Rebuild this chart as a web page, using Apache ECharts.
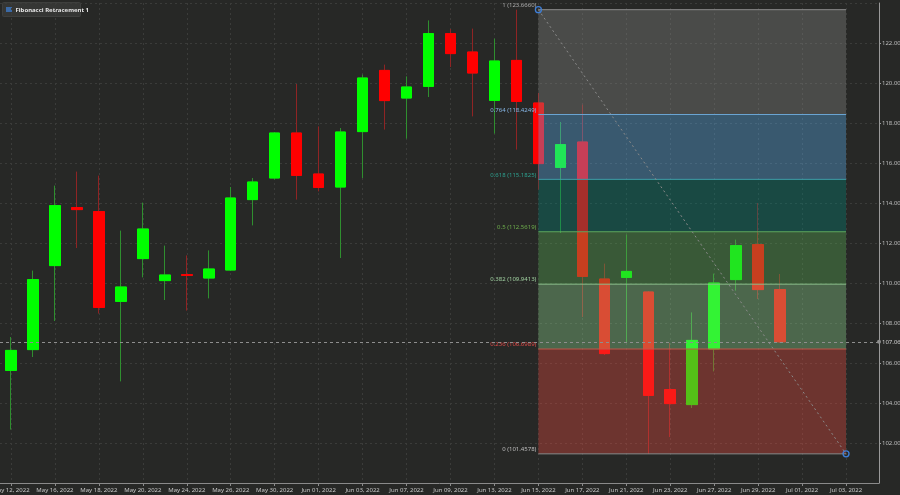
<!DOCTYPE html>
<html><head><meta charset="utf-8">
<script src="https://cdn.jsdelivr.net/npm/echarts@6/dist/echarts.min.js"></script>
<style>html,body{margin:0;padding:0;background:#272826;}#c{width:900px;height:495px;}</style>
</head><body><div id="c"></div>
<script>
const dates = ['May 12, 2022','May 13, 2022','May 16, 2022','May 17, 2022','May 18, 2022','May 19, 2022','May 20, 2022','May 23, 2022','May 24, 2022','May 25, 2022','May 26, 2022','May 27, 2022','May 30, 2022','May 31, 2022','Jun 01, 2022','Jun 02, 2022','Jun 03, 2022','Jun 06, 2022','Jun 07, 2022','Jun 08, 2022','Jun 09, 2022','Jun 10, 2022','Jun 13, 2022','Jun 14, 2022','Jun 15, 2022','Jun 16, 2022','Jun 17, 2022','Jun 20, 2022','Jun 21, 2022','Jun 22, 2022','Jun 23, 2022','Jun 24, 2022','Jun 27, 2022','Jun 28, 2022','Jun 29, 2022','Jun 30, 2022','Jul 01, 2022','Jul 02, 2022','Jul 03, 2022','Jul 04, 2022'];
const opens  = [105.63,106.67,110.87,113.77,113.57,109.08,111.22,110.12,110.42,110.25,110.65,114.17,115.25,117.50,115.45,114.80,117.57,120.63,119.25,119.83,122.47,121.55,119.13,121.13,119.00,115.78,117.05,110.20,110.28,109.55,104.67,103.92,106.70,110.17,111.92,109.67];
const closes = [106.63,110.17,113.87,113.67,108.78,109.80,112.70,110.40,110.38,110.70,114.25,115.05,117.50,115.38,114.78,117.55,120.25,119.12,119.80,122.47,121.47,120.50,121.10,119.08,115.97,116.92,110.33,106.47,110.58,104.38,103.97,107.13,110.00,111.87,109.67,107.06];
const lows   = [102.67,106.30,108.10,111.75,108.47,105.08,110.28,109.15,108.62,109.23,110.60,112.88,115.17,114.17,114.58,111.25,115.25,117.67,117.22,119.30,120.80,118.33,117.47,116.67,114.67,112.50,108.30,106.40,107.00,101.4578,102.30,103.75,105.58,109.62,109.20,107.00];
const highs  = [107.30,110.62,114.87,115.57,115.37,112.62,114.02,111.87,111.38,111.63,114.80,115.25,117.55,119.95,117.83,117.75,120.42,120.92,120.33,123.13,122.70,122.72,122.22,123.666,119.50,118.05,118.92,110.97,112.42,109.60,107.00,108.53,110.47,112.17,114.00,110.45];
const fibRatios = [1, 0.764, 0.618, 0.5, 0.382, 0.236, 0];
const fibPrices = [123.6660, 118.4249, 115.1825, 112.5619, 109.9413, 106.6989, 101.4578];
const fibStartIndex = 24, fibEndIndex = 38;
const yMin = 100, yMax = 124, yInterval = 2;

const bandColors = ['rgba(140,140,140,0.35)','rgba(91,181,250,0.35)','rgba(0,135,124,0.35)','rgba(91,181,89,0.35)','rgba(146,221,149,0.35)','rgba(240,75,67,0.35)'];
const lineColors = ['#8c8c8c','#6aa4d2','#3f9fa8','#5ea85e','#8cc08c','#c2574c','#8a8a8a'];
const labelColors = ['#ababab','#86b6e6','#2ea08f','#6eae4c','#a0d0a0','#e04a48','#bdbdbd'];
const FONT = '"Noto Sans", sans-serif';

const fullData = opens.map((o,i)=>[o, closes[i], lows[i], highs[i]]);
const bodyData = opens.map((o,i)=>[o, closes[i], Math.min(o,closes[i]), Math.max(o,closes[i])]);
const fibData = fibPrices.map((p,i)=>[fibStartIndex, fibEndIndex, p, i < fibPrices.length-1 ? fibPrices[i+1] : p, fibRatios[i]]);

function renderFib(params, api) {
  const i = params.dataIndex;
  const p = api.value(2), pn = api.value(3);
  const a = api.coord([api.value(0), p]);
  const b = api.coord([api.value(1), p]);
  const ch = [];
  if (i < fibPrices.length - 1) {
    const c = api.coord([api.value(1), pn]);
    ch.push({type:'rect', shape:{x:a[0], y:a[1], width:b[0]-a[0], height:c[1]-a[1]}, style:{fill:bandColors[i]}});
  }
  ch.push({type:'line', shape:{x1:a[0], y1:a[1], x2:b[0], y2:b[1]}, style:{stroke:lineColors[i], lineWidth:1}});
  ch.push({type:'text', x:a[0]-2, y:a[1]-1.5, style:{text: fibRatios[i] + ' (' + p.toFixed(4) + ')', fill:labelColors[i], font:'6px ' + FONT, align:'right', verticalAlign:'bottom'}});
  return {type:'group', children: ch};
}

const chart = echarts.init(document.getElementById('c'), null, {renderer:'canvas'});
chart.setOption({
  animation: false,
  backgroundColor: '#272826',
  grid: {left: 0, right: 21, top: 3, bottom: 12, containLabel: false, outerBoundsMode: 'none'},
  graphic: [{type:'group', left:2, top:2, z:100, children:[
    {type:'rect', shape:{x:0, y:0, width:78, height:14, r:1}, style:{fill:'#353634', stroke:'#3e3f3d'}},
    {type:'rect', shape:{x:3.5, y:4.5, width:6, height:5}, style:{fill:'#3b6aa6'}},
    {type:'text', x:13, y:7.5, style:{text:'Fibonacci Retracement 1', fill:'#e6e6e6', font:'bold 6px ' + FONT, verticalAlign:'middle'}}
  ]}],
  xAxis: {
    type: 'category', data: dates, boundaryGap: true,
    axisLine: {show:true, lineStyle:{color:'#8a8a8a', width:1}},
    axisTick: {show:true, interval:1, alignWithLabel:true, length:3, lineStyle:{color:'#8a8a8a'}},
    axisLabel: {interval:1, color:'#c8c8c8', fontSize:6, fontFamily:FONT, margin:4, hideOverlap:false},
    splitLine: {show:true, interval:1, alignWithLabel:true, lineStyle:{color:'#3b3c3a', type:[2,3], width:1}}
  },
  yAxis: {
    type: 'value', position: 'right', min: yMin, max: yMax, interval: yInterval, scale: true,
    axisLine: {show:true, lineStyle:{color:'#9a9a9a', width:1}},
    axisTick: {show:true, length:2, lineStyle:{color:'#9a9a9a'}},
    axisLabel: {color:'#bdbdbd', fontSize:6, fontFamily:FONT, margin:3, showMinLabel:false, showMaxLabel:false, formatter: v => v.toFixed(2)},
    splitLine: {show:true, lineStyle:{color:'#3b3c3a', type:[2,3], width:1}}
  },
  series: [
    {
      type: 'candlestick', name: 'wick', data: fullData, barWidth: 11, z: 2,
      itemStyle: {color:'#2f8f2f', color0:'#8f2424', borderColor:'#2f8f2f', borderColor0:'#8f2424', borderWidth:1}
    },
    {
      type: 'candlestick', name: 'body', data: bodyData, barWidth: 11, z: 2,
      itemStyle: {color:'#00ff00', color0:'#ff0000', borderColor:'#00ff00', borderColor0:'#ff0000', borderWidth:1},
      markLine: {
        silent: true, symbol: ['none','circle'], symbolSize: 4,
        lineStyle: {color:'#8e8e8e', type:[3,3], width:1},
        label: {show:true, position:'end', distance:3, color:'#cfcfcf', fontSize:6, fontFamily:FONT, formatter: p => p.value.toFixed(2)},
        data: [{yAxis: closes[closes.length-1]}]
      }
    },
    {
      type: 'custom', name: 'fib', data: fibData, z: 3,
      encode: {x:[0,1], y:[2,3]},
      renderItem: renderFib
    },
    {
      type: 'line', name: 'trend', z: 4,
      data: [[fibStartIndex, fibPrices[0]], [fibEndIndex, fibPrices[fibPrices.length-1]]],
      lineStyle: {color:'#8a8a8a', type:[2,3], width:1},
      symbol: 'circle', symbolSize: 6, showSymbol: true,
      itemStyle: {color:'rgba(0,0,0,0)', borderColor:'#3f7fd8', borderWidth:1.3}
    }
  ]
});
</script></body></html>
